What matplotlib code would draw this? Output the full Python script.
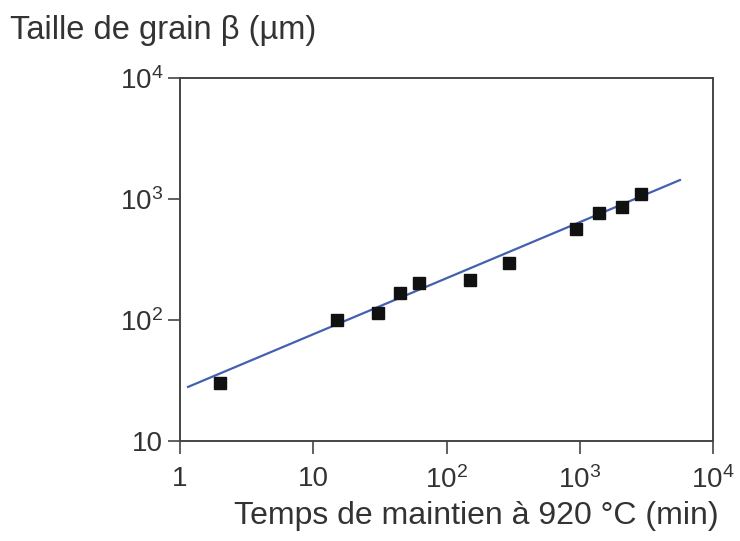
import matplotlib

matplotlib.use("Agg")

import matplotlib.pyplot as plt
from matplotlib.ticker import FixedLocator, FixedFormatter, NullLocator

TEXT_COLOR = "#333333"
SPINE_COLOR = "#444444"
LINE_COLOR = "#4460b0"

# hold time (min) and beta grain size (um)
temps_min = [2.0, 15.1, 30.6, 44.8, 62, 150, 295, 937, 1393, 2075, 2883]
taille_um = [30, 100, 114, 167, 202, 214, 296, 565, 766, 860, 1100]

# fitted straight line (log-log), two end points
fit_x = [1.15, 5650]
fit_y = [28, 1435]

x_ticks = [1, 10, 100, 1000, 10000]
x_tick_labels = ["1", "10", "$10^2$", "$10^3$", "$10^4$"]
y_ticks = [10, 100, 1000, 10000]
y_tick_labels = ["10", "$10^2$", "$10^3$", "$10^4$"]

plt.rcParams.update({
    "font.family": ["Liberation Sans", "DejaVu Sans"],
    "mathtext.fontset": "custom",
    "mathtext.rm": "Liberation Sans",
    "mathtext.it": "Liberation Sans:italic",
    "mathtext.bf": "Liberation Sans:bold",
    "text.color": TEXT_COLOR,
    "xtick.color": SPINE_COLOR,
    "ytick.color": SPINE_COLOR,
    "xtick.labelcolor": TEXT_COLOR,
    "ytick.labelcolor": TEXT_COLOR,
})

fig = plt.figure(figsize=(7.4, 5.41), dpi=100)
ax = fig.add_axes([180 / 740, 1 - 441 / 541, 533 / 740, 363 / 541])

ax.plot(fit_x, fit_y, color=LINE_COLOR, linewidth=1.6, zorder=2)
ax.plot(temps_min, taille_um, linestyle="none", marker="s", markersize=9,
        color="#111111", zorder=3)

ax.set_xscale("log")
ax.set_yscale("log")
ax.set_xlim(1, 10000)
ax.set_ylim(10, 10000)

ax.xaxis.set_major_locator(FixedLocator(x_ticks))
ax.xaxis.set_major_formatter(FixedFormatter(x_tick_labels))
ax.yaxis.set_major_locator(FixedLocator(y_ticks))
ax.yaxis.set_major_formatter(FixedFormatter(y_tick_labels))
ax.xaxis.set_minor_locator(NullLocator())
ax.yaxis.set_minor_locator(NullLocator())

ax.tick_params(axis="both", direction="out", length=9, width=1.2, labelsize=20)
ax.tick_params(axis="x", pad=9)
ax.tick_params(axis="y", pad=3)
for spine in ax.spines.values():
    spine.set_color(SPINE_COLOR)
    spine.set_linewidth(1.4)

fig.text(10 / 740, 1 - 30 / 541, "Taille de grain β (µm)", ha="left", va="center",
         fontsize=23.5, color=TEXT_COLOR)
fig.text(476 / 740, 1 - 516 / 541, "Temps de maintien à 920 °C (min)", ha="center",
         va="center", fontsize=23, color=TEXT_COLOR)

fig.savefig("out.png", dpi=100)
